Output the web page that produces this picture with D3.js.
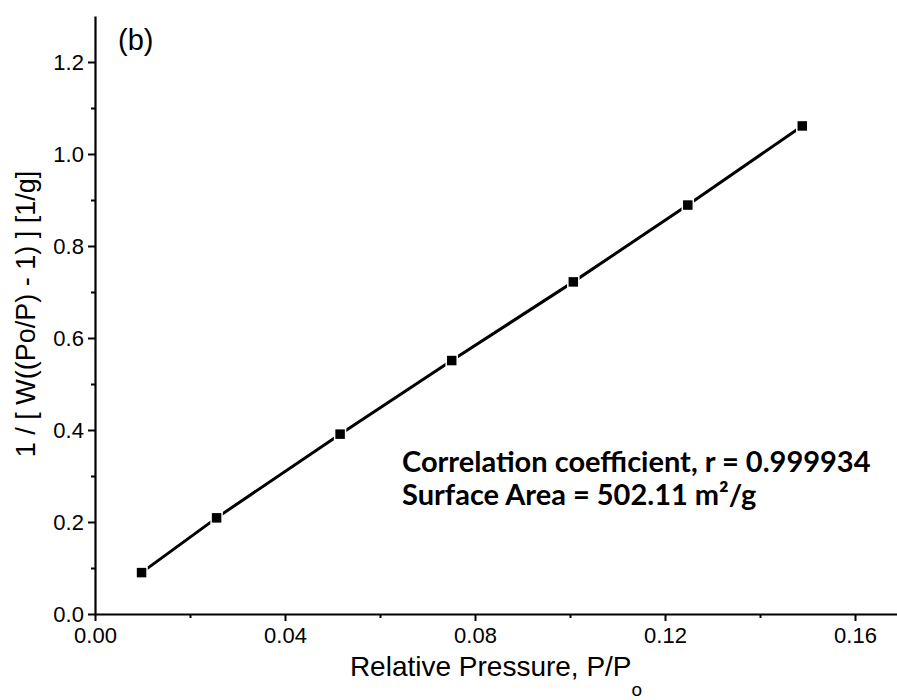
<!DOCTYPE html>
<html>
<head>
  <title>BET plot</title>
  <script src="https://d3js.org/d3.v7.min.js"></script>
  <style>
    body { margin: 0; background: #fff; }
    svg { display: block; }
    text { font-family: "Liberation Sans", Arial, sans-serif; fill: #000; }
  </style>
</head>
<body>
<div id="chart"></div>
<script type="text/javascript">

  // data
  var relPressure = [0.0098, 0.0256, 0.0516, 0.0751, 0.1007, 0.1248, 0.1489];
  var betValue    = [0.090, 0.209, 0.391, 0.551, 0.722, 0.889, 1.061];
  var xMajor = [0, 0.04, 0.08, 0.12, 0.16];
  var xMinor = [0.02, 0.06, 0.10, 0.14];
  var yMajor = [0, 0.2, 0.4, 0.6, 0.8, 1.0, 1.2];
  var yMinor = [0.1, 0.3, 0.5, 0.7, 0.9, 1.1];
  var notes = ["Correlation coefficient, r = 0.999934", "Surface Area = 502.11 m\u00B2/g"];

  var width = 897, height = 700;
  var padLeft = 95, padTop = 16, padBottom = 614;

  var svg = d3.select("#chart").append("svg")
      .attr("width", width)
      .attr("height", height);

  var x = d3.scaleLinear().domain([0, 0.17]).range([padLeft, padLeft + 0.17 * 4750]);
  var y = d3.scaleLinear().domain([0, 1.3]).range([padBottom, padTop]);

  /* axes */
  var xAxis = svg.append("g")
      .attr("transform", "translate(0," + padBottom + ")")
      .call(d3.axisBottom(x).tickValues(xMajor).tickFormat(d3.format(".2f"))
        .tickSize(7).tickSizeOuter(0));
  svg.append("g")
      .attr("transform", "translate(0," + padBottom + ")")
      .call(d3.axisBottom(x).tickValues(xMinor).tickFormat("").tickSize(4).tickSizeOuter(0))
      .select(".domain").remove();

  var yAxis = svg.append("g")
      .attr("transform", "translate(" + padLeft + ",0)")
      .call(d3.axisLeft(y).tickValues(yMajor).tickFormat(d3.format(".1f"))
        .tickSize(7).tickSizeOuter(0));
  svg.append("g")
      .attr("transform", "translate(" + padLeft + ",0)")
      .call(d3.axisLeft(y).tickValues(yMinor).tickFormat("").tickSize(4).tickSizeOuter(0))
      .select(".domain").remove();

  svg.selectAll(".domain").attr("stroke", "#000").attr("stroke-width", 2.2);
  svg.selectAll(".tick line").attr("stroke", "#000").attr("stroke-width", 2);
  svg.selectAll(".tick text")
      .style("font-family", "'Liberation Sans', Arial, sans-serif")
      .attr("font-size", 22).attr("fill", "#222");
  xAxis.selectAll(".tick text").attr("dy", "0.88em");
  yAxis.selectAll(".tick text").attr("dx", "-0.05em");

  /* axis titles */
  var xt = svg.append("text")
      .attr("x", 496).attr("y", 676)
      .attr("text-anchor", "middle")
      .attr("font-size", 28).attr("fill", "#222")
      .text("Relative Pressure, P/P");
  xt.append("tspan").attr("font-size", 19).attr("dy", 20).text("o");

  svg.append("text")
      .attr("transform", "translate(35,314) rotate(-90)")
      .attr("text-anchor", "middle")
      .attr("font-size", 27).attr("fill", "#222")
      .text("1 / [ W((Po/P) - 1) ] [1/g]");

  svg.append("text")
      .attr("x", 118).attr("y", 50)
      .attr("font-size", 29).attr("fill", "#222")
      .text("(b)");

  /* data */
  var pts = relPressure.map(function (d, i) { return [d, betValue[i]]; });

  svg.append("path")
      .datum(pts)
      .attr("fill", "none")
      .attr("stroke", "#000")
      .attr("stroke-width", 3)
      .attr("d", d3.line().x(function (d) { return x(d[0]); }).y(function (d) { return y(d[1]); }));

  var m = 11;
  svg.selectAll("rect.pt")
      .data(pts)
      .enter().append("rect")
      .attr("class", "pt")
      .attr("x", function (d) { return x(d[0]) - m / 2; })
      .attr("y", function (d) { return y(d[1]) - m / 2; })
      .attr("width", m).attr("height", m)
      .attr("fill", "#000")
      .attr("stroke", "#fff").attr("stroke-width", 1.5);

  /* annotation */
  svg.selectAll("text.note")
      .data(notes)
      .enter().append("text")
      .attr("class", "note")
      .attr("x", 402)
      .attr("y", function (d, i) { return 472 + i * 33; })
      .style("font-family", "Lato, 'Open Sans', sans-serif")
      .attr("font-weight", "bold")
      .attr("font-size", 29)
      .text(function (d) { return d; });

</script>
</body>
</html>
